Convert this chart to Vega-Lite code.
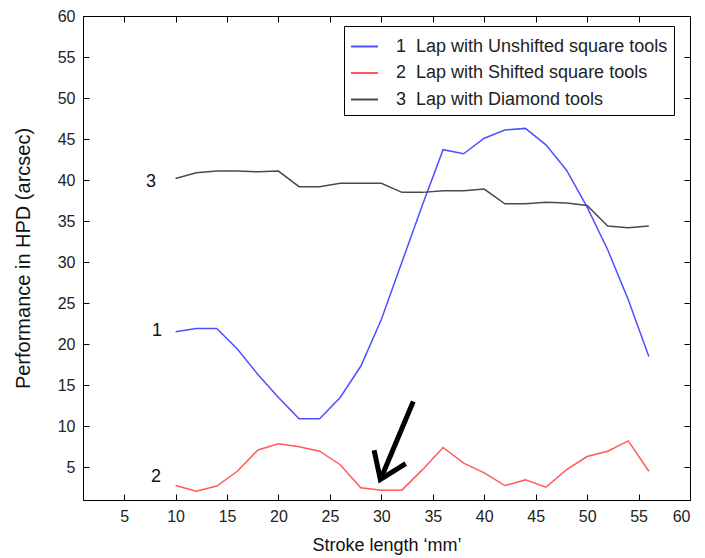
{
  "$schema": "https://vega.github.io/schema/vega-lite/v6.json",
  "width": 607,
  "height": 484,
  "autosize": {"type": "none"},
  "padding": {"left": 83, "top": 16, "right": 15, "bottom": 58},
  "background": "white",
  "config": {
    "font": "Liberation Sans",
    "view": {"stroke": "black", "strokeWidth": 1},
    "axis": {
      "grid": false,
      "domainColor": "black",
      "tickColor": "black",
      "labelColor": "#222222",
      "titleColor": "#111111",
      "labelFont": "Liberation Sans",
      "titleFont": "Liberation Sans",
      "labelFontSize": 16,
      "titleFontSize": 18,
      "titleFontWeight": "normal"
    },
    "legend": {"labelFont": "Liberation Sans"}
  },
  "datasets": {
    "main": [
      {"x": 10, "y": 21.5, "s": "1\u00a0\u00a0Lap with Unshifted square tools"},
      {"x": 12, "y": 21.9, "s": "1\u00a0\u00a0Lap with Unshifted square tools"},
      {"x": 14, "y": 21.9, "s": "1\u00a0\u00a0Lap with Unshifted square tools"},
      {"x": 16, "y": 19.4, "s": "1\u00a0\u00a0Lap with Unshifted square tools"},
      {"x": 18, "y": 16.3, "s": "1\u00a0\u00a0Lap with Unshifted square tools"},
      {"x": 20, "y": 13.5, "s": "1\u00a0\u00a0Lap with Unshifted square tools"},
      {"x": 22, "y": 10.9, "s": "1\u00a0\u00a0Lap with Unshifted square tools"},
      {"x": 24, "y": 10.9, "s": "1\u00a0\u00a0Lap with Unshifted square tools"},
      {"x": 26, "y": 13.5, "s": "1\u00a0\u00a0Lap with Unshifted square tools"},
      {"x": 28, "y": 17.3, "s": "1\u00a0\u00a0Lap with Unshifted square tools"},
      {"x": 30, "y": 23.0, "s": "1\u00a0\u00a0Lap with Unshifted square tools"},
      {"x": 32, "y": 30.0, "s": "1\u00a0\u00a0Lap with Unshifted square tools"},
      {"x": 34, "y": 37.0, "s": "1\u00a0\u00a0Lap with Unshifted square tools"},
      {"x": 36, "y": 43.7, "s": "1\u00a0\u00a0Lap with Unshifted square tools"},
      {"x": 38, "y": 43.2, "s": "1\u00a0\u00a0Lap with Unshifted square tools"},
      {"x": 40, "y": 45.1, "s": "1\u00a0\u00a0Lap with Unshifted square tools"},
      {"x": 42, "y": 46.1, "s": "1\u00a0\u00a0Lap with Unshifted square tools"},
      {"x": 44, "y": 46.3, "s": "1\u00a0\u00a0Lap with Unshifted square tools"},
      {"x": 46, "y": 44.3, "s": "1\u00a0\u00a0Lap with Unshifted square tools"},
      {"x": 48, "y": 41.2, "s": "1\u00a0\u00a0Lap with Unshifted square tools"},
      {"x": 50, "y": 36.7, "s": "1\u00a0\u00a0Lap with Unshifted square tools"},
      {"x": 52, "y": 31.5, "s": "1\u00a0\u00a0Lap with Unshifted square tools"},
      {"x": 54, "y": 25.4, "s": "1\u00a0\u00a0Lap with Unshifted square tools"},
      {"x": 56, "y": 18.5, "s": "1\u00a0\u00a0Lap with Unshifted square tools"},
      {"x": 10, "y": 2.76, "s": "2\u00a0\u00a0Lap with Shifted square tools"},
      {"x": 12, "y": 2.07, "s": "2\u00a0\u00a0Lap with Shifted square tools"},
      {"x": 14, "y": 2.7, "s": "2\u00a0\u00a0Lap with Shifted square tools"},
      {"x": 16, "y": 4.5, "s": "2\u00a0\u00a0Lap with Shifted square tools"},
      {"x": 18, "y": 7.1, "s": "2\u00a0\u00a0Lap with Shifted square tools"},
      {"x": 20, "y": 7.85, "s": "2\u00a0\u00a0Lap with Shifted square tools"},
      {"x": 22, "y": 7.5, "s": "2\u00a0\u00a0Lap with Shifted square tools"},
      {"x": 24, "y": 6.95, "s": "2\u00a0\u00a0Lap with Shifted square tools"},
      {"x": 26, "y": 5.3, "s": "2\u00a0\u00a0Lap with Shifted square tools"},
      {"x": 28, "y": 2.5, "s": "2\u00a0\u00a0Lap with Shifted square tools"},
      {"x": 30, "y": 2.2, "s": "2\u00a0\u00a0Lap with Shifted square tools"},
      {"x": 32, "y": 2.2, "s": "2\u00a0\u00a0Lap with Shifted square tools"},
      {"x": 34, "y": 4.7, "s": "2\u00a0\u00a0Lap with Shifted square tools"},
      {"x": 36, "y": 7.4, "s": "2\u00a0\u00a0Lap with Shifted square tools"},
      {"x": 38, "y": 5.5, "s": "2\u00a0\u00a0Lap with Shifted square tools"},
      {"x": 40, "y": 4.3, "s": "2\u00a0\u00a0Lap with Shifted square tools"},
      {"x": 42, "y": 2.76, "s": "2\u00a0\u00a0Lap with Shifted square tools"},
      {"x": 44, "y": 3.45, "s": "2\u00a0\u00a0Lap with Shifted square tools"},
      {"x": 46, "y": 2.56, "s": "2\u00a0\u00a0Lap with Shifted square tools"},
      {"x": 48, "y": 4.7, "s": "2\u00a0\u00a0Lap with Shifted square tools"},
      {"x": 50, "y": 6.3, "s": "2\u00a0\u00a0Lap with Shifted square tools"},
      {"x": 52, "y": 6.95, "s": "2\u00a0\u00a0Lap with Shifted square tools"},
      {"x": 54, "y": 8.2, "s": "2\u00a0\u00a0Lap with Shifted square tools"},
      {"x": 56, "y": 4.5, "s": "2\u00a0\u00a0Lap with Shifted square tools"},
      {"x": 10, "y": 40.2, "s": "3\u00a0\u00a0Lap with Diamond tools"},
      {"x": 12, "y": 40.9, "s": "3\u00a0\u00a0Lap with Diamond tools"},
      {"x": 14, "y": 41.1, "s": "3\u00a0\u00a0Lap with Diamond tools"},
      {"x": 16, "y": 41.1, "s": "3\u00a0\u00a0Lap with Diamond tools"},
      {"x": 18, "y": 41.0, "s": "3\u00a0\u00a0Lap with Diamond tools"},
      {"x": 20, "y": 41.1, "s": "3\u00a0\u00a0Lap with Diamond tools"},
      {"x": 22, "y": 39.2, "s": "3\u00a0\u00a0Lap with Diamond tools"},
      {"x": 24, "y": 39.2, "s": "3\u00a0\u00a0Lap with Diamond tools"},
      {"x": 26, "y": 39.6, "s": "3\u00a0\u00a0Lap with Diamond tools"},
      {"x": 28, "y": 39.6, "s": "3\u00a0\u00a0Lap with Diamond tools"},
      {"x": 30, "y": 39.6, "s": "3\u00a0\u00a0Lap with Diamond tools"},
      {"x": 32, "y": 38.5, "s": "3\u00a0\u00a0Lap with Diamond tools"},
      {"x": 34, "y": 38.5, "s": "3\u00a0\u00a0Lap with Diamond tools"},
      {"x": 36, "y": 38.7, "s": "3\u00a0\u00a0Lap with Diamond tools"},
      {"x": 38, "y": 38.7, "s": "3\u00a0\u00a0Lap with Diamond tools"},
      {"x": 40, "y": 38.9, "s": "3\u00a0\u00a0Lap with Diamond tools"},
      {"x": 42, "y": 37.1, "s": "3\u00a0\u00a0Lap with Diamond tools"},
      {"x": 44, "y": 37.1, "s": "3\u00a0\u00a0Lap with Diamond tools"},
      {"x": 46, "y": 37.3, "s": "3\u00a0\u00a0Lap with Diamond tools"},
      {"x": 48, "y": 37.2, "s": "3\u00a0\u00a0Lap with Diamond tools"},
      {"x": 50, "y": 36.9, "s": "3\u00a0\u00a0Lap with Diamond tools"},
      {"x": 52, "y": 34.4, "s": "3\u00a0\u00a0Lap with Diamond tools"},
      {"x": 54, "y": 34.2, "s": "3\u00a0\u00a0Lap with Diamond tools"},
      {"x": 56, "y": 34.4, "s": "3\u00a0\u00a0Lap with Diamond tools"}
    ],
    "labels": [
      {"x": 7.6, "y": 39.8, "t": "3"},
      {"x": 8.2, "y": 21.6, "t": "1"},
      {"x": 8.1, "y": 3.8, "t": "2"}
    ],
    "arrow": [
      {"x": 33.1, "y": 13.0, "x2": 30.05, "y2": 3.9, "tx": 29.9, "ty": 3.5, "a": 203}
    ]
  },
  "layer": [
    {
      "data": {"name": "main"},
      "mark": {"type": "line", "strokeWidth": 1.5},
      "encoding": {
        "x": {
          "field": "x", "type": "quantitative",
          "scale": {"domain": [1, 60], "nice": false, "zero": false},
          "axis": {"values": [5, 10, 15, 20, 25, 30, 35, 40, 45, 50, 55, 60], "tickSize": -6, "labelPadding": 14, "title": "Stroke length \u2018mm\u2019", "titlePadding": 12}
        },
        "y": {
          "field": "y", "type": "quantitative",
          "scale": {"domain": [1, 60], "nice": false, "zero": false},
          "axis": {"values": [5, 10, 15, 20, 25, 30, 35, 40, 45, 50, 55, 60], "tickSize": -6, "labelPadding": 14, "title": "Performance in HPD (arcsec)", "titlePadding": 24, "titleFontSize": 20}
        },
        "color": {
          "field": "s", "type": "nominal",
          "scale": {
            "domain": ["1\u00a0\u00a0Lap with Unshifted square tools", "2\u00a0\u00a0Lap with Shifted square tools", "3\u00a0\u00a0Lap with Diamond tools"],
            "range": ["#4f4fff", "#ff5a5a", "#4a4a4a"]
          },
          "legend": {
            "title": null,
            "orient": "none",
            "legendX": 261,
            "legendY": 10,
            "symbolType": "stroke",
            "symbolSize": 729,
            "symbolStrokeWidth": 2,
            "labelFontSize": 18,
            "labelLimit": 500,
            "labelColor": "#222222",
            "labelOffset": 17,
            "rowPadding": 2.5,
            "padding": 6,
            "strokeColor": "black",
            "fillColor": "white"
          }
        }
      }
    },
    {
      "data": {"name": "labels"},
      "mark": {"type": "text", "fontSize": 18, "color": "#111111", "align": "center", "baseline": "middle", "font": "Liberation Sans"},
      "encoding": {
        "x": {"field": "x", "type": "quantitative", "axis": null},
        "y": {"field": "y", "type": "quantitative", "axis": null},
        "text": {"field": "t"}
      }
    },
    {
      "data": {"name": "arrow"},
      "mark": {"type": "rule", "strokeWidth": 5, "color": "black"},
      "encoding": {
        "x": {"field": "x", "type": "quantitative", "axis": {"orient": "top", "values": [5, 10, 15, 20, 25, 30, 35, 40, 45, 50, 55, 60], "labels": false, "title": null, "tickSize": -6, "domain": false}},
        "y": {"field": "y", "type": "quantitative", "axis": {"orient": "right", "values": [5, 10, 15, 20, 25, 30, 35, 40, 45, 50, 55, 60], "labels": false, "title": null, "tickSize": -6, "domain": false}},
        "x2": {"field": "x2"},
        "y2": {"field": "y2"}
      }
    },
    {
      "data": {"name": "arrow"},
      "mark": {"type": "point", "shape": "M -0.7 1 L 0 0 L 0.7 1", "filled": false, "strokeWidth": 5, "color": "black", "opacity": 1, "strokeJoin": "miter"},
      "encoding": {
        "x": {"field": "tx", "type": "quantitative", "axis": null},
        "y": {"field": "ty", "type": "quantitative", "axis": null},
        "angle": {"field": "a", "type": "quantitative", "scale": null},
        "size": {"value": 2400}
      }
    }
  ],
  "resolve": {"axis": {"x": "independent", "y": "independent"}}
}
